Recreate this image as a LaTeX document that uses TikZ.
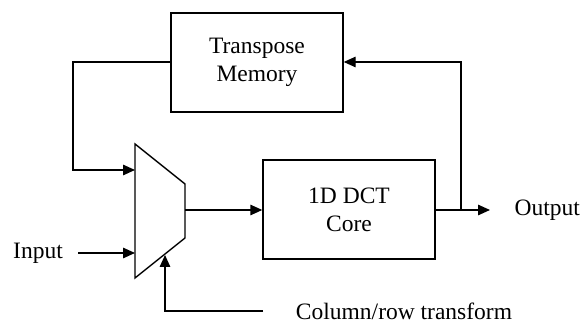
\documentclass[tikz,border=0pt]{standalone}
\usepackage{fontspec}
\setmainfont{Liberation Serif}
\usetikzlibrary{arrows.meta}
\begin{document}
\begin{tikzpicture}[x=1pt,y=1pt,
  line width=1.4pt,
  arr/.style={-{Triangle[length=12pt,width=10.5pt]}},
  blk/.style={draw,minimum width=172pt,minimum height=99pt,align=center,inner sep=0pt,font=\fontsize{23.5}{28}\selectfont},
  lbl/.style={inner sep=0pt,font=\fontsize{23.5}{28}\selectfont}]
\useasboundingbox (0,0) rectangle (583,323);
\node[blk] (tm) at (257,260.5) {Transpose\\Memory};
\node[blk] (dct) at (349,113.5) {1D DCT\\Core};
% mux
\coordinate (mtl) at (135,179);
\coordinate (mbl) at (135,45);
\coordinate (mtr) at (185,139);
\coordinate (mbr) at (185,85);
\draw[line join=miter] (mtl) -- (mtr) -- (mbr) -- (mbl) -- cycle;
\coordinate (min1) at (135,153);
\coordinate (min2) at (135,70);
\coordinate (mout) at (185,113);
\coordinate (msel) at (165,68);
\coordinate (fbl) at (73,261);
\coordinate (br) at (461,113);
\node[lbl] (in) at (38,70) {Input};
\node[lbl,anchor=west] (out) at (514,113) {Output};
\node[lbl] (col) at (404,12) {Column/row transform};
\coordinate (inS) at (78,70);
\coordinate (outE) at (490,113);
\coordinate (colS) at (263,12);
\draw[arr] (tm.west |- fbl) -- (fbl) |- (min1);
\draw[arr] (inS) -- (min2);
\draw[arr] (mout) -- (mout -| dct.west);
\draw[arr] (dct.east |- br) -- (outE);
\draw[arr] (br) |- (tm.east |- fbl);
\draw[arr] (colS) -| (msel);
\end{tikzpicture}
\end{document}
